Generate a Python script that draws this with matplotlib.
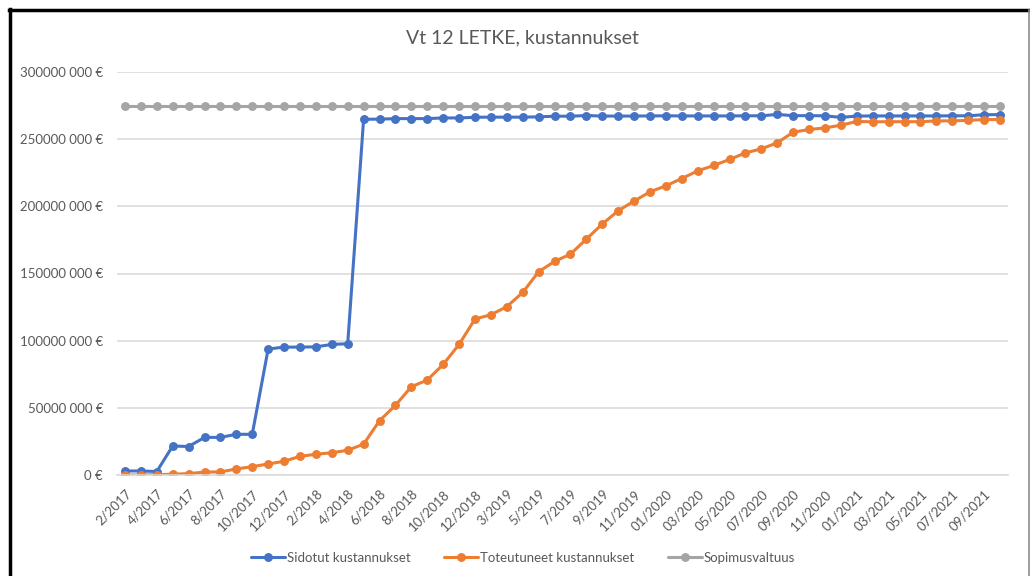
import matplotlib.pyplot as plt
from matplotlib.lines import Line2D
from matplotlib.ticker import FuncFormatter

plt.rcParams['font.family'] = ['Lato', 'DejaVu Sans']

# month labels: 2/2017 .. 12/2018, 2/2019 .. 12/2019, 01/2020 .. 10/2021
months = [f"{m}/2017" for m in range(2, 13)] + [f"{m}/2018" for m in range(1, 13)]
months += [f"{m}/2019" for m in range(2, 13)]
months += [f"{m:02d}/2020" for m in range(1, 13)] + [f"{m:02d}/2021" for m in range(1, 11)]

# values in million euros
sidotut = [3.0, 3.0, 2.6, 21.6, 21.2, 28.0, 28.0, 30.3, 30.3, 93.8, 95.2, 95.2, 95.4, 97.2, 97.7,
           264.8, 264.9, 265.3, 265.3, 265.3, 265.8, 265.8, 266.3, 266.4, 266.4, 266.4, 266.6,
           267.1, 267.1, 267.6, 267.2, 267.2, 267.2, 267.3, 267.4, 267.3, 267.3, 267.3, 267.3,
           267.4, 267.4, 268.4, 267.5, 267.5, 267.4, 266.2, 267.2, 267.3, 267.3, 267.3, 267.3,
           267.3, 267.4, 267.4, 268.2, 268.3]
toteutuneet = [0.0, 0.0, 0.2, 0.6, 1.0, 2.2, 2.3, 4.5, 6.2, 8.2, 10.2, 13.9, 15.4, 16.6, 18.4,
               23.0, 40.4, 51.9, 65.7, 70.7, 82.3, 97.2, 116.1, 119.3, 125.3, 135.9, 151.3,
               159.0, 164.4, 175.6, 186.8, 196.7, 203.9, 210.8, 215.3, 220.7, 226.4, 230.4,
               234.9, 239.8, 242.8, 247.3, 255.2, 257.2, 258.4, 260.4, 263.2, 262.9, 263.0,
               263.0, 263.0, 263.6, 263.6, 264.0, 264.6, 264.6]
valtuus = [275.0] * len(months)

series = [
    ("Sidotut kustannukset", sidotut, "#4472C4"),
    ("Toteutuneet kustannukset", toteutuneet, "#ED7D31"),
    ("Sopimusvaltuus", valtuus, "#A5A5A5"),
]

text_col = "#595959"
grid_col = "#D9D9D9"

fig = plt.figure(figsize=(10.3, 5.76), dpi=100)
ax = fig.add_axes([117 / 1030, 101 / 576, 891 / 1030, 403 / 576])

x = list(range(len(months)))
handles = []
for name, vals, col in series:
    h, = ax.plot(x, [v * 1e6 for v in vals], color=col, lw=2.2, marker='o', ms=5.4,
                 label=name, solid_capstyle='round')
    handles.append(h)


def eur(v, pos):
    v = int(round(v))
    if v < 1000:
        return f"{v} €"
    return f"{v // 1000} {v % 1000:03d} €"


ax.set_ylim(0, 300e6)
ax.set_yticks([i * 50e6 for i in range(7)])
ax.yaxis.set_major_formatter(FuncFormatter(eur))
ax.set_xlim(-0.5, len(months) - 0.5)
ax.set_xticks(x[::2])
ax.set_xticklabels(months[::2], rotation=45, ha='right', va='top', rotation_mode='anchor')

ax.grid(axis='y', color=grid_col, lw=1.1)
ax.set_axisbelow(True)
for s in ['top', 'right', 'left']:
    ax.spines[s].set_visible(False)
ax.spines['bottom'].set_color(grid_col)
ax.spines['bottom'].set_linewidth(1.1)
ax.tick_params(axis='both', length=0, colors=text_col, labelsize=9.5)
ax.tick_params(axis='x', pad=9)
ax.tick_params(axis='y', pad=10)

fig.text(0.507, 1 - 38 / 576, "Vt 12 LETKE, kustannukset", ha='center', va='center',
         fontsize=14, color=text_col)

leg = fig.legend(handles=handles, loc='center', bbox_to_anchor=(0.508, 1 - 558 / 576),
                 ncol=3, frameon=False, fontsize=9.5, handlelength=2.6, columnspacing=2.5,
                 handletextpad=0.15)
for t in leg.get_texts():
    t.set_color(text_col)

# outer frame of the screenshot
fig.add_artist(Line2D([10 / 1030, 10 / 1030], [0, 1 - 9 / 576], color='black', lw=2.5,
                      transform=fig.transFigure))
fig.add_artist(Line2D([9 / 1030, 1], [1 - 10 / 576, 1 - 10 / 576], color='black', lw=2.5,
                      transform=fig.transFigure))
fig.add_artist(Line2D([1029 / 1030, 1029 / 1030], [0, 1 - 10 / 576], color='#8C8C8C', lw=1.2,
                      transform=fig.transFigure))

fig.savefig("out.png", dpi=100)
